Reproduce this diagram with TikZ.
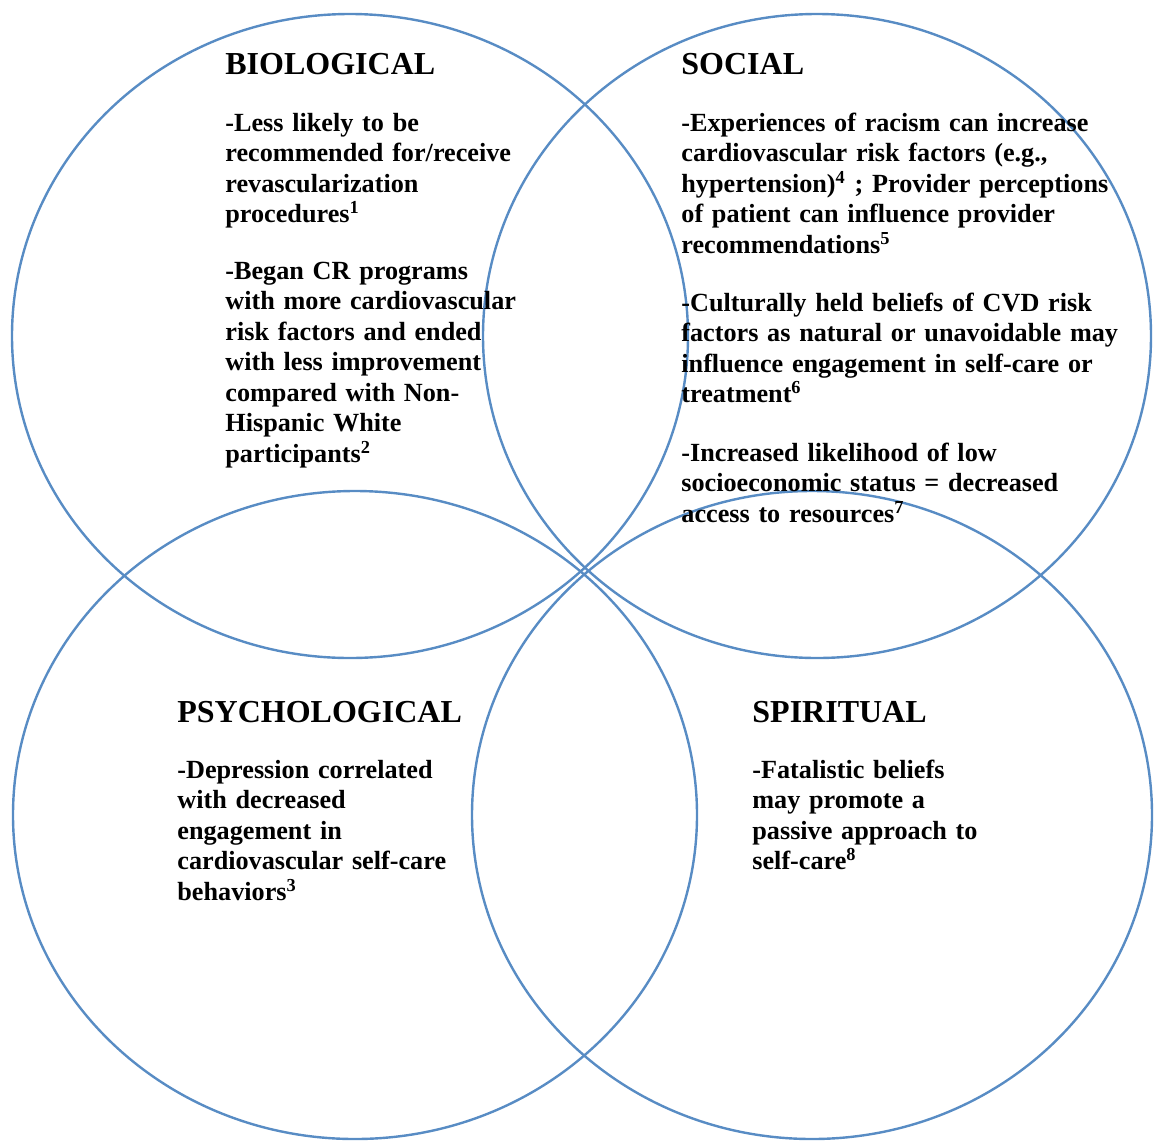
\documentclass[tikz,border=0pt]{standalone}
\usepackage{fontspec}
\setmainfont{Liberation Serif}
\definecolor{ringblue}{RGB}{88,140,196}
\tikzset{
  ring/.style={draw=ringblue,line width=1.2pt},
  head/.style={anchor=base west,inner sep=0pt,font=\bfseries\fontsize{16}{18}\selectfont},
  para/.style={anchor=base west,inner sep=0pt,text width=10cm,align=left,font=\bfseries\fontsize{13.1}{15.25}\selectfont}
}
\begin{document}
\begin{tikzpicture}[x=0.5pt,y=-0.5pt]
  \useasboundingbox (0,0) rectangle (1161,1141);
  % the four circles
  \draw[ring](350,336)ellipse[x radius=169pt,y radius=161pt];
  \draw[ring](817,336)ellipse[x radius=167pt,y radius=161pt];
  \draw[ring](355,815)ellipse[x radius=171pt,y radius=162pt];
  \draw[ring](812,815)ellipse[x radius=170pt,y radius=162pt];
  % biological
  \node[head](bio)at(225,74){BIOLOGICAL};
  \node[para](bio1)at(225,131){-Less likely to be\\recommended for/receive\\revascularization\\procedures\textsuperscript{1}};
  \node[para](bio2)at(225,279){-Began CR programs\\with more cardiovascular\\risk factors and ended\\with less improvement\\compared with Non-\\Hispanic White\\participants\textsuperscript{2}};
  % social
  \node[head](soc)at(681,74){SOCIAL};
  \node[para](soc1)at(681,131){-Experiences of racism can increase\\cardiovascular risk factors (e.g.,\\hypertension)\textsuperscript{4} ; Provider perceptions\\of patient can influence provider\\recommendations\textsuperscript{5}};
  \node[para](soc2)at(681,311){-Culturally held beliefs of CVD risk\\factors as natural or unavoidable may\\influence engagement in self-care or\\treatment\textsuperscript{6}};
  \node[para](soc3)at(681,461){-Increased likelihood of low\\socioeconomic status = decreased\\access to resources\textsuperscript{7}};
  % psychological
  \node[head](psy)at(177,722){PSYCHOLOGICAL};
  \node[para](psy1)at(177,778){-Depression correlated\\with decreased\\engagement in\\cardiovascular self-care\\behaviors\textsuperscript{3}};
  % spiritual
  \node[head](spi)at(752,722){SPIRITUAL};
  \node[para](spi1)at(752,778){-Fatalistic beliefs\\may promote a\\passive approach to\\self-care\textsuperscript{8}};
\end{tikzpicture}
\end{document}
